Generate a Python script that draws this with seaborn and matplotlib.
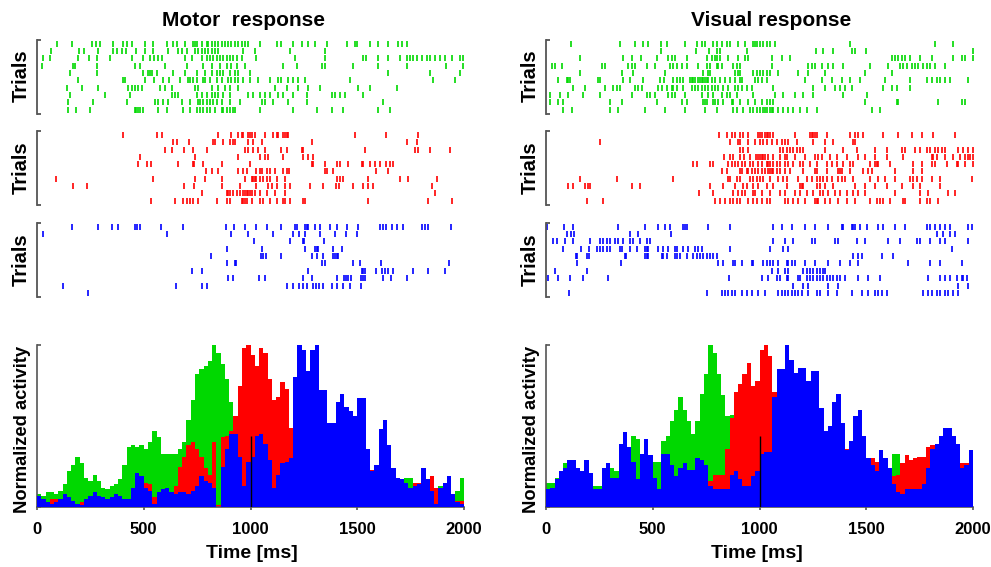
import numpy as np
import pandas as pd
import matplotlib
matplotlib.use("Agg")
import matplotlib.pyplot as plt
import seaborn as sns

# %%
# spike times [ms], one list per trial, top trial first
motor_green = [
    [95, 165, 259, 275, 295, 357, 401, 420, 443, 506, 545, 607, 635, 654, 693, 732, 740, 748, 771, 794, 802, 818, 833, 849, 865, 880, 896, 911, 927, 943, 958, 974, 989, 1044, 1122, 1145, 1200, 1239, 1270, 1302, 1356, 1450, 1489, 1497, 1559, 1598, 1645, 1692, 1708, 1731],
    [64, 196, 220, 287, 357, 376, 396, 415, 463, 506, 545, 615, 662, 677, 701, 740, 755, 771, 786, 802, 818, 833, 849, 966, 1021, 1185, 1349],
    [29, 61, 193, 245, 279, 341, 443, 498, 529, 548, 568, 584, 693, 724, 771, 794, 810, 826, 841, 857, 872, 888, 903, 919, 935, 958, 1028, 1208, 1349, 1527, 1543, 1598, 1645, 1700, 1731, 1747, 1762, 1778, 1801, 1825, 1840, 1864, 1887, 1911, 1942, 1981, 1996],
    [22, 170, 178, 279, 459, 482, 599, 701, 779, 818, 857, 888, 911, 935, 974, 1153, 1216, 1333, 1349, 1481, 1598, 1731, 1918, 1996],
    [154, 279, 498, 521, 529, 537, 560, 638, 693, 748, 786, 818, 841, 857, 872, 903, 927, 943, 997, 1645, 1840, 1981],
    [193, 404, 412, 506, 548, 591, 620, 669, 708, 716, 732, 748, 779, 786, 810, 841, 865, 896, 911, 927, 943, 966, 997, 1036, 1091, 1130, 1145, 1177, 1200, 1223, 1255, 1465, 1855, 1957],
    [139, 209, 287, 427, 443, 459, 474, 490, 576, 599, 630, 740, 755, 818, 849, 880, 903, 943, 1114, 1169, 1223, 1270, 1325, 1505, 1559, 1684],
    [154, 318, 435, 630, 646, 662, 748, 771, 794, 818, 833, 849, 872, 903, 989, 1013, 1044, 1067, 1091, 1130, 1153, 1200, 1263, 1380, 1395, 1419, 1442, 1527],
    [146, 263, 420, 552, 568, 591, 615, 677, 716, 755, 763, 779, 794, 810, 826, 841, 865, 903, 950, 1052, 1067, 1106, 1177, 1263, 1622],
    [146, 185, 248, 459, 466, 474, 482, 498, 568, 607, 685, 716, 748, 763, 779, 794, 810, 833, 865, 872, 888, 903, 919, 927, 1044, 1200, 1310, 1380, 1435, 1598, 1653],
]
motor_red = [
    [404, 560, 584, 849, 911, 943, 958, 966, 989, 997, 1005, 1021, 1067, 1106, 1122, 1130, 1153, 1161, 1169, 1177, 1489, 1637, 1786],
    [638, 654, 713, 825, 833, 869, 903, 919, 927, 989, 1013, 1052, 1286, 1731, 1778],
    [599, 630, 688, 732, 794, 974, 989, 1013, 1036, 1067, 1145, 1169, 1239, 1247, 1536, 1770, 1786, 1840, 1934],
    [482, 740, 943, 1044, 1067, 1083, 1153, 1247, 1270, 1294],
    [474, 513, 532, 662, 729, 735, 779, 865, 997, 1286, 1294, 1349, 1403, 1419, 1458, 1520, 1528, 1559, 1583, 1606, 1637, 1653, 1669],
    [791, 818, 846, 943, 966, 982, 1028, 1044, 1052, 1075, 1091, 1114, 1153, 1169, 1181, 1349, 1356, 1387, 1590, 1645],
    [89, 545, 740, 786, 865, 974, 1005, 1013, 1021, 1028, 1044, 1060, 1075, 1091, 1122, 1161, 1403, 1419, 1435, 1552, 1700, 1739, 1872],
    [170, 232, 688, 735, 865, 950, 1028, 1083, 1099, 1122, 1161, 1185, 1278, 1341, 1400, 1416, 1481, 1525, 1552, 1575, 1848],
    [771, 888, 896, 903, 919, 935, 950, 966, 974, 982, 989, 997, 1005, 1021, 1044, 1075, 1114, 1161, 1864],
    [532, 646, 685, 701, 716, 732, 755, 841, 888, 903, 958, 966, 974, 982, 1005, 1044, 1060, 1091, 1122, 1153, 1161, 1185, 1247, 1255, 1552, 1833, 1942],
]
motor_blue = [
    [162, 287, 349, 380, 459, 470, 482, 579, 682, 885, 922, 974, 1028, 1078, 1145, 1208, 1216, 1255, 1263, 1270, 1302, 1325, 1372, 1403, 1453, 1505, 1606, 1622, 1637, 1661, 1684, 1716, 1801, 1817, 1833, 1937],
    [29, 607, 911, 986, 1106, 1200, 1228, 1255, 1325, 1395, 1446, 1497],
    [1016, 1185, 1247, 1250, 1344],
    [891, 1052, 1255, 1302, 1310, 1317, 1388, 1427],
    [813, 1047, 1060, 1072, 1145, 1286, 1310, 1341, 1388, 1395, 1403, 1411],
    [888, 927, 932, 1333, 1349, 1481, 1512, 1610, 1931],
    [724, 771, 1270, 1520, 1528, 1536, 1590, 1614, 1630, 1645, 1669, 1759, 1833, 1911],
    [896, 916, 1041, 1069, 1247, 1286, 1403, 1438, 1446, 1458, 1469, 1516, 1525, 1536, 1622, 1656, 1731],
    [123, 651, 771, 797, 1172, 1200, 1228, 1247, 1263, 1291, 1306, 1322, 1341, 1380, 1403, 1434, 1466, 1516],
    [240],
]
visual_green = [
    [116, 347, 417, 456, 479, 537, 565, 651, 706, 729, 745, 784, 799, 823, 849, 862, 901, 932, 971, 979, 987, 1002, 1018, 1033, 1049, 1072, 1424, 1822, 1908],
    [537, 702, 765, 799, 815, 940, 1264, 1299, 1346, 1432, 1447, 1499, 1998],
    [159, 362, 401, 443, 518, 573, 589, 604, 659, 753, 776, 792, 799, 815, 854, 901, 932, 948, 1057, 1104, 1143, 1619, 1635, 1650, 1666, 1682, 1705, 1752, 1807, 1908, 1947, 1963, 1998],
    [27, 42, 73, 261, 276, 386, 401, 417, 471, 510, 581, 596, 612, 635, 659, 714, 753, 768, 799, 807, 823, 877, 893, 909, 1057, 1229, 1244, 1260, 1291, 1322, 1346, 1393, 1517, 1603, 1658, 1673, 1689, 1712, 1728, 1744, 1767, 1783, 1798, 1822, 1869],
    [159, 354, 409, 557, 737, 760, 768, 885, 901, 909, 971, 987, 1002, 1018, 1033, 1049, 1088, 1182, 1229, 1307, 1494, 1619],
    [58, 97, 104, 112, 245, 253, 362, 393, 456, 534, 553, 596, 612, 628, 643, 674, 682, 690, 698, 714, 721, 729, 737, 745, 753, 760, 776, 792, 815, 838, 862, 885, 909, 916, 979, 994, 1010, 1033, 1213, 1291, 1338, 1385, 1424, 1471, 1588, 1705, 1783, 1807, 1830, 1845, 1869, 1892, 1978],
    [128, 183, 276, 315, 331, 347, 417, 432, 448, 526, 542, 565, 589, 596, 612, 643, 682, 698, 714, 729, 745, 760, 776, 792, 807, 831, 854, 885, 901, 916, 940, 963, 1065, 1252, 1307, 1354, 1377, 1400, 1432, 1580, 1619, 1643, 1705],
    [19, 66, 104, 175, 253, 401, 471, 487, 510, 573, 589, 604, 651, 729, 760, 784, 823, 846, 862, 893, 971, 1072, 1112, 1166, 1205, 1252, 1393, 1502],
    [19, 58, 81, 300, 354, 518, 635, 659, 737, 745, 753, 784, 792, 807, 831, 870, 877, 909, 948, 979, 1010, 1033, 1049, 1065, 1494, 1643, 1650, 1837, 1947, 1963],
    [81, 120, 300, 339, 464, 557, 651, 745, 799, 877, 893, 924, 955, 971, 987, 1002, 1018, 1026, 1033, 1049, 1057, 1065, 1088, 1112, 1135, 1158, 1190, 1221, 1268, 1525, 1564],
]
visual_red = [
    [812, 849, 870, 885, 909, 924, 948, 994, 1002, 1010, 1026, 1033, 1041, 1049, 1065, 1166, 1236, 1244, 1252, 1260, 1268, 1315, 1424, 1447, 1463, 1486, 1580, 1650, 1713, 1760, 1814, 1916],
    [253, 862, 901, 909, 948, 979, 1002, 1018, 1033, 1057, 1080, 1104, 1119, 1135, 1174, 1252, 1307, 1346, 1439, 1447],
    [909, 924, 948, 1096, 1112, 1127, 1143, 1158, 1174, 1190, 1205, 1307, 1393, 1455, 1541, 1596, 1666, 1682, 1728, 1752, 1783, 1798, 1822, 1837, 1853, 1869, 1931, 1955, 1978, 1998],
    [834, 862, 877, 909, 927, 955, 983, 994, 1002, 1010, 1018, 1026, 1041, 1065, 1096, 1119, 1127, 1166, 1213, 1260, 1275, 1291, 1330, 1361, 1408, 1463, 1494, 1541, 1596, 1674, 1807, 1814, 1830, 1869, 1908, 1939, 1963, 1978, 1986, 1998],
    [690, 706, 768, 780, 854, 870, 885, 901, 916, 932, 955, 971, 994, 1010, 1033, 1041, 1049, 1065, 1080, 1096, 1119, 1135, 1158, 1190, 1205, 1236, 1268, 1315, 1338, 1361, 1393, 1424, 1439, 1517, 1541, 1549, 1556, 1611, 1720, 1760, 1807, 1822, 1877, 1924, 1931, 1963, 1998],
    [823, 849, 909, 916, 940, 948, 963, 979, 994, 1010, 1026, 1041, 1049, 1057, 1065, 1080, 1096, 1119, 1143, 1205, 1260, 1268, 1315, 1369, 1377, 1385, 1424, 1486, 1510, 1525, 1635, 1720, 1760],
    [159, 331, 596, 854, 862, 893, 909, 955, 971, 987, 1002, 1018, 1049, 1088, 1112, 1127, 1182, 1221, 1244, 1268, 1283, 1299, 1315, 1338, 1369, 1385, 1400, 1439, 1517, 1556, 1588, 1635, 1705, 1720, 1736, 1760, 1807, 1845, 1994],
    [105, 128, 183, 198, 206, 401, 440, 768, 831, 885, 924, 940, 971, 994, 1033, 1065, 1127, 1190, 1197, 1205, 1268, 1283, 1307, 1346, 1447, 1494, 1541, 1596, 1666, 1720, 1752, 1845],
    [718, 784, 877, 901, 916, 932, 971, 979, 1010, 1049, 1096, 1119, 1166, 1190, 1221, 1252, 1283, 1299, 1322, 1354, 1377, 1408, 1439, 1463, 1494, 1635, 1752, 1791, 1884, 1916],
    [190, 265, 792, 815, 838, 862, 877, 893, 909, 948, 971, 987, 1010, 1033, 1049, 1119, 1135, 1158, 1182, 1213, 1260, 1268, 1275, 1307, 1330, 1369, 1408, 1447, 1517, 1549, 1564, 1580, 1611, 1674, 1682, 1752, 1783, 1798, 1837],
]
visual_blue = [
    [3, 84, 125, 339, 464, 526, 557, 581, 643, 651, 659, 760, 862, 1062, 1104, 1151, 1213, 1260, 1322, 1385, 1393, 1432, 1439, 1447, 1471, 1502, 1556, 1580, 1635, 1682, 1783, 1798, 1822, 1845, 1869, 1892, 1978, 1994],
    [100, 116, 131, 393, 432, 584, 1830, 1861, 1892, 1916],
    [34, 50, 89, 128, 206, 253, 268, 284, 300, 323, 339, 362, 393, 409, 440, 471, 487, 1065, 1119, 1158, 1244, 1260, 1354, 1369, 1455, 1494, 1603, 1658, 1736, 1752, 1798, 1845, 1869, 1978],
    [81, 162, 203, 237, 253, 268, 284, 300, 347, 354, 393, 425, 464, 471, 479, 526, 549, 573, 604, 612, 643, 667, 698, 714, 729, 862, 1049, 1112, 1135, 1900],
    [141, 144, 190, 203, 370, 375, 464, 471, 479, 542, 549, 565, 604, 612, 628, 659, 690, 706, 721, 737, 753, 768, 784, 799, 1439, 1463, 1478, 1572, 1627],
    [147, 350, 807, 831, 877, 885, 916, 963, 971, 1018, 1033, 1049, 1065, 1088, 1127, 1135, 1151, 1166, 1213, 1260, 1322, 1377, 1424, 1463, 1697, 1798, 1845, 1947],
    [42, 190, 1057, 1088, 1119, 1135, 1205, 1221, 1236, 1252, 1268, 1283, 1299, 1307],
    [11, 58, 112, 175, 292, 859, 1010, 1041, 1080, 1096, 1127, 1135, 1182, 1190, 1221, 1236, 1252, 1268, 1283, 1299, 1315, 1330, 1346, 1361, 1377, 1400, 1463, 1510, 1564, 1791, 1845, 1869, 1892, 1924, 1947, 1955, 1970],
    [1158, 1205, 1229, 1322, 1369, 1931, 1978],
    [109, 753, 823, 838, 854, 870, 885, 916, 940, 963, 994, 1026, 1088, 1104, 1119, 1135, 1151, 1166, 1182, 1197, 1229, 1268, 1283, 1322, 1361, 1432, 1478, 1510, 1541, 1556, 1572, 1596, 1767, 1791, 1807, 1830, 1845, 1869, 1884, 1908, 1931],
]

# normalized activity, 20 ms bins from 0 to 2000 ms
motor_green_hist = [
    0.08, 0.07, 0.09, 0.09, 0.08, 0.10, 0.14, 0.22, 0.26, 0.31,
    0.27, 0.18, 0.16, 0.20, 0.16, 0.12, 0.11, 0.13, 0.14, 0.17,
    0.26, 0.37, 0.38, 0.37, 0.38, 0.36, 0.40, 0.47, 0.43, 0.33,
    0.33, 0.33, 0.33, 0.36, 0.40, 0.54, 0.66, 0.82, 0.85, 0.87,
    0.90, 1.00, 0.95, 0.88, 0.79, 0.65, 0.50, 0.40, 0.35, 0.30,
    0.30, 0.30, 0.28, 0.28, 0.25, 0.25, 0.25, 0.22, 0.22, 0.20,
    0.20, 0.20, 0.20, 0.20, 0.20, 0.18, 0.18, 0.18, 0.18, 0.18,
    0.17, 0.17, 0.17, 0.17, 0.17, 0.16, 0.16, 0.16, 0.16, 0.16,
    0.15, 0.15, 0.15, 0.15, 0.15, 0.15, 0.18, 0.18, 0.12, 0.12,
    0.12, 0.12, 0.12, 0.10, 0.13, 0.13, 0.12, 0.07, 0.10, 0.18,
]
motor_red_hist = [
    0.02, 0.02, 0.03, 0.05, 0.05, 0.03, 0.02, 0.02, 0.02, 0.02,
    0.03, 0.03, 0.03, 0.03, 0.03, 0.03, 0.03, 0.03, 0.03, 0.03,
    0.03, 0.03, 0.08, 0.10, 0.10, 0.15, 0.14, 0.06, 0.08, 0.10,
    0.10, 0.08, 0.13, 0.25, 0.31, 0.38, 0.40, 0.36, 0.31, 0.24,
    0.20, 0.40, 0.01, 0.43, 0.44, 0.47, 0.56, 0.75, 0.98, 1.00,
    0.94, 0.87, 0.98, 0.95, 0.79, 0.66, 0.68, 0.77, 0.73, 0.49,
    0.30, 0.30, 0.30, 0.28, 0.25, 0.25, 0.25, 0.25, 0.22, 0.22,
    0.20, 0.20, 0.20, 0.20, 0.20, 0.20, 0.20, 0.20, 0.23, 0.15,
    0.15, 0.15, 0.15, 0.15, 0.15, 0.14, 0.12, 0.10, 0.15, 0.15,
    0.12, 0.12, 0.19, 0.12, 0.08, 0.08, 0.08, 0.06, 0.04, 0.04,
]
motor_blue_hist = [
    0.07, 0.05, 0.03, 0.02, 0.03, 0.05, 0.08, 0.06, 0.04, 0.02,
    0.01, 0.05, 0.07, 0.09, 0.07, 0.06, 0.05, 0.06, 0.08, 0.07,
    0.05, 0.05, 0.12, 0.21, 0.19, 0.12, 0.10, 0.02, 0.09, 0.11,
    0.12, 0.09, 0.08, 0.09, 0.09, 0.08, 0.10, 0.13, 0.19, 0.16,
    0.15, 0.12, 0.00, 0.25, 0.36, 0.45, 0.45, 0.31, 0.13, 0.28,
    0.31, 0.44, 0.45, 0.39, 0.29, 0.12, 0.20, 0.27, 0.28, 0.30,
    0.80, 1.00, 0.97, 0.84, 0.97, 1.00, 0.72, 0.72, 0.52, 0.52,
    0.65, 0.70, 0.62, 0.59, 0.56, 0.67, 0.67, 0.36, 0.22, 0.26,
    0.48, 0.54, 0.38, 0.24, 0.18, 0.17, 0.15, 0.12, 0.13, 0.14,
    0.24, 0.17, 0.10, 0.02, 0.12, 0.15, 0.19, 0.08, 0.03, 0.02,
]
visual_green_hist = [
    0.15, 0.15, 0.18, 0.22, 0.27, 0.28, 0.28, 0.23, 0.21, 0.28,
    0.20, 0.13, 0.13, 0.23, 0.26, 0.24, 0.22, 0.35, 0.40, 0.36,
    0.44, 0.42, 0.30, 0.40, 0.30, 0.28, 0.28, 0.41, 0.44, 0.53,
    0.60, 0.68, 0.60, 0.53, 0.45, 0.53, 0.70, 0.82, 1.00, 0.95,
    0.82, 0.69, 0.56, 0.57, 0.45, 0.42, 0.40, 0.38, 0.36, 0.35,
    0.35, 0.34, 0.33, 0.33, 0.32, 0.32, 0.31, 0.30, 0.30, 0.30,
    0.30, 0.29, 0.29, 0.28, 0.28, 0.28, 0.27, 0.27, 0.27, 0.26,
    0.26, 0.25, 0.25, 0.25, 0.24, 0.24, 0.23, 0.21, 0.21, 0.21,
    0.20, 0.33, 0.33, 0.20, 0.20, 0.20, 0.20, 0.20, 0.20, 0.20,
    0.20, 0.20, 0.20, 0.20, 0.20, 0.20, 0.20, 0.20, 0.20, 0.20,
]
visual_red_hist = [
    0.08, 0.08, 0.08, 0.08, 0.08, 0.08, 0.08, 0.08, 0.08, 0.08,
    0.08, 0.08, 0.08, 0.08, 0.08, 0.08, 0.08, 0.08, 0.08, 0.08,
    0.08, 0.08, 0.08, 0.08, 0.08, 0.08, 0.08, 0.08, 0.08, 0.08,
    0.08, 0.08, 0.08, 0.08, 0.08, 0.08, 0.08, 0.08, 0.16, 0.20,
    0.20, 0.20, 0.36, 0.55, 0.71, 0.76, 0.82, 0.89, 0.75, 0.78,
    0.97, 1.00, 0.93, 0.71, 0.45, 0.42, 0.40, 0.40, 0.38, 0.38,
    0.36, 0.36, 0.35, 0.35, 0.34, 0.34, 0.34, 0.34, 0.34, 0.34,
    0.36, 0.33, 0.33, 0.32, 0.31, 0.29, 0.30, 0.28, 0.25, 0.24,
    0.23, 0.19, 0.20, 0.27, 0.32, 0.29, 0.30, 0.31, 0.31, 0.37,
    0.38, 0.30, 0.30, 0.30, 0.30, 0.30, 0.30, 0.27, 0.27, 0.30,
]
visual_blue_hist = [
    0.11, 0.12, 0.17, 0.22, 0.24, 0.29, 0.29, 0.24, 0.22, 0.29,
    0.21, 0.11, 0.11, 0.24, 0.27, 0.18, 0.18, 0.39, 0.46, 0.37,
    0.28, 0.17, 0.33, 0.42, 0.32, 0.18, 0.11, 0.33, 0.33, 0.26,
    0.19, 0.24, 0.27, 0.23, 0.23, 0.30, 0.29, 0.26, 0.13, 0.11,
    0.11, 0.11, 0.11, 0.20, 0.22, 0.17, 0.13, 0.13, 0.19, 0.22,
    0.33, 0.34, 0.34, 0.68, 0.85, 0.85, 1.00, 0.91, 0.83, 0.86,
    0.86, 0.78, 0.84, 0.84, 0.61, 0.47, 0.50, 0.65, 0.70, 0.52,
    0.35, 0.41, 0.56, 0.60, 0.44, 0.30, 0.26, 0.22, 0.35, 0.30,
    0.24, 0.14, 0.09, 0.08, 0.11, 0.11, 0.11, 0.11, 0.14, 0.24,
    0.36, 0.39, 0.44, 0.49, 0.49, 0.44, 0.39, 0.24, 0.26, 0.35,
]

bin_width = 20
time_ticks = [0, 500, 1000, 1500, 2000]
cue_time = 1000
cue_height = 0.44

colors = {"green": "#00d800", "red": "#ff0000", "blue": "#0000ff"}
spine_color = "#555555"

# %%
sns.set_style("white")
plt.rcParams["font.family"] = ["Liberation Sans", "DejaVu Sans"]
plt.rcParams["font.weight"] = "bold"
plt.rcParams["text.color"] = "black"
plt.rcParams["xtick.labelcolor"] = "black"

fig = plt.figure(figsize=(9.91, 5.67), dpi=100)
W, H = 991, 567


def px_axes(left, top, right, bottom):
    return fig.add_axes([left / W, 1 - bottom / H, (right - left) / W, (bottom - top) / H])


def raster(ax, trials, color):
    df = pd.DataFrame(
        [(t, i + 1) for i, row in enumerate(trials) for t in row],
        columns=["time", "trial"]
    )
    sns.scatterplot(
        data=df, x="time", y="trial", marker="|", s=24,
        linewidth=1.2, color=color, ax=ax, legend=False
    )
    ax.set_xlim(0, 2000)
    ax.set_ylim(10.6, 0.45)
    ax.set_xlabel("")
    ax.set_ylabel("")
    ax.set_xticks([])
    ax.set_yticks([10.6, 0.45])
    ax.set_yticklabels([])
    ax.tick_params(axis="y", direction="in", length=3, width=1.3, color=spine_color, left=True)
    for side in ["top", "right", "bottom"]:
        ax.spines[side].set_visible(False)
    ax.spines["left"].set_color(spine_color)
    ax.spines["left"].set_linewidth(1.3)


def histogram(ax, series):
    for z, (values, color) in enumerate(series):
        df = pd.DataFrame({
            "time": np.arange(len(values)) * bin_width + bin_width / 2,
            "activity": values,
        })
        sns.histplot(
            data=df, x="time", weights="activity", binwidth=bin_width,
            binrange=(0, 2000), element="step", fill=True, color=color,
            alpha=1, linewidth=0, ax=ax, zorder=z + 1
        )
    ax.vlines(cue_time, 0, cue_height, color="black", linewidth=1.0, zorder=10)
    ax.set_xlim(0, 2000)
    ax.set_ylim(0, 1)
    ax.set_xlabel("")
    ax.set_ylabel("")
    ax.set_xticks(time_ticks)
    ax.set_xticklabels([str(t) for t in time_ticks], fontsize=12,
                       fontweight="bold", color="black")
    ax.set_yticks([0, 1])
    ax.set_yticklabels([])
    ax.tick_params(axis="x", direction="out", length=2, width=1.2, pad=9, color=spine_color, bottom=True)
    ax.tick_params(axis="y", direction="in", length=3, width=1.2, color=spine_color, left=True)
    for side in ["top", "right"]:
        ax.spines[side].set_visible(False)
    for side in ["left", "bottom"]:
        ax.spines[side].set_color(spine_color)
        ax.spines[side].set_linewidth(1.2)


columns = [
    (37, 464, "Motor  response", 244, 252, 21, 23,
     motor_green, motor_red, motor_blue,
     motor_green_hist, motor_red_hist, motor_blue_hist),
    (546, 973, "Visual response", 771, 757, 530, 531,
     visual_green, visual_red, visual_blue,
     visual_green_hist, visual_red_hist, visual_blue_hist),
]

for (x0, x1, title, title_x, xlabel_x, trials_x, norm_x,
     g_trials, r_trials, b_trials, g_hist, r_hist, b_hist) in columns:
    raster_rows = [(39.5, 114, g_trials, colors["green"], 76),
                   (131, 205, r_trials, colors["red"], 168),
                   (222.7, 297.3, b_trials, colors["blue"], 260)]
    for top, bottom, trials, color, label_y in raster_rows:
        ax = px_axes(x0, top, x1, bottom)
        raster(ax, trials, color)
        fig.text(trials_x / W, 1 - label_y / H, "Trials", rotation=90,
                 ha="center", va="center", fontsize=14.5, fontweight="bold",
                 color="black")

    hax = px_axes(x0, 345, x1, 507)
    histogram(hax, [(g_hist, colors["green"]), (r_hist, colors["red"]), (b_hist, colors["blue"])])
    fig.text(norm_x / W, 1 - 429 / H, "Normalized activity", rotation=90,
             ha="center", va="center", fontsize=13.2, fontweight="bold", color="black")
    fig.text(xlabel_x / W, 1 - 553 / H, "Time [ms]", ha="center", va="center",
             fontsize=14, fontweight="bold", color="black")
    fig.text(title_x / W, 1 - 21 / H, title, ha="center", va="center",
             fontsize=15, fontweight="bold", color="black")

fig.savefig("out.png", dpi=100, facecolor="white")
print("saved out.png")
